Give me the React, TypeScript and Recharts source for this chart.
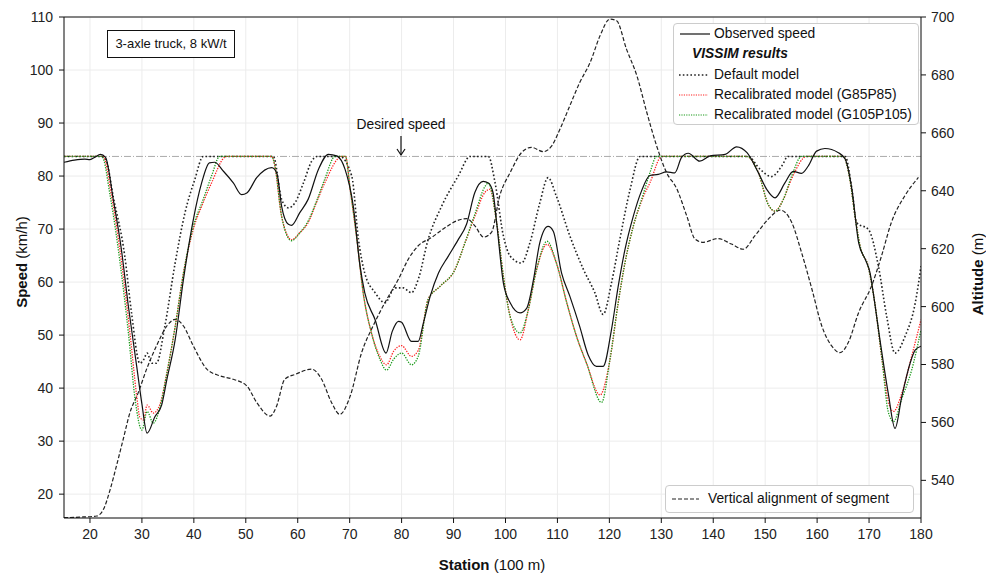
import React from 'react';
import { LineChart, Line, XAxis, YAxis, CartesianGrid, ReferenceLine } from 'recharts';

const stationTicks = [20, 30, 40, 50, 60, 70, 80, 90, 100, 110, 120, 130, 140, 150, 160, 170, 180];
const speedTicks = [20, 30, 40, 50, 60, 70, 80, 90, 100, 110];
const altitudeTicks = [540, 560, 580, 600, 620, 640, 660, 680, 700];
const desiredSpeed = 83.7;

// observed speed (km/h)
const obsStation = [15, 17, 19, 20, 21, 22, 23, 24.5, 26, 27.4, 29, 30, 31, 32.5, 33.8, 34.8, 36.4, 38, 39.9, 41.5, 43, 44, 45.7, 47.6, 49.2, 50.2, 52.1, 55, 56, 56.9, 58.2, 58.8, 60.4, 62, 64, 65.9, 67.5, 69.1, 70.7, 72, 72.9, 74.9, 77, 78.2, 79.4, 80, 81.9, 83.2, 84.2, 85.5, 87.1, 89, 90.9, 92.5, 94.1, 95.7, 96.7, 97.6, 98.3, 99.6, 100.9, 102.8, 104.1, 105.4, 106.6, 108.2, 109.2, 110.8, 112.4, 114.3, 115.9, 117.5, 118.8, 120.4, 121.7, 123, 124.6, 126.2, 127.8, 129.4, 131, 132.6, 133.9, 135.2, 137.4, 139.4, 142.3, 144.5, 146.5, 148.7, 150.3, 151.9, 153.8, 155.4, 157, 158.3, 159.9, 161.5, 164.1, 165.4, 166.7, 168, 169.3, 170.2, 170.8, 172.1, 173.7, 175, 176.3, 177.9, 178.9, 180];
const obsSpeed = [82.6, 83.0, 83.2, 83.1, 83.6, 84.1, 83.5, 75.5, 66.5, 55.4, 44.1, 37, 31.5, 34.6, 36.8, 41.6, 49.1, 60.5, 71.8, 78.7, 82.5, 82.6, 80.9, 78.7, 76.5, 76.8, 79.7, 81.6, 80.5, 74.3, 70.9, 70.7, 73.1, 75.6, 81.3, 84.1, 83.8, 81.3, 74.3, 63, 58, 52.9, 46.6, 50.7, 52.6, 52.4, 48.8, 48.8, 52.3, 57.3, 61.7, 64.9, 68, 70.9, 76.9, 79.0, 78.7, 76.9, 71.2, 59.8, 56.1, 54.2, 55.1, 60.5, 67.4, 70.5, 69.6, 61.7, 57.3, 51.6, 46.3, 44.1, 44.1, 51, 59.2, 66.1, 72.4, 77.2, 80.1, 80.3, 80.8, 80.6, 83.5, 84.3, 82.8, 83.8, 84.1, 85.5, 84.4, 80.6, 77.5, 75.9, 78.7, 80.9, 80.5, 81.9, 84.7, 85.2, 84.4, 83.2, 77.5, 67.4, 64.2, 61.7, 58, 49.1, 39, 32.4, 38.4, 44.7, 47.2, 47.9];

// VISSIM default model
const defStation = [15, 22, 23, 24.5, 26.7, 28, 29.6, 30.3, 31, 31.9, 32.8, 34.4, 36.4, 38.3, 40.2, 41.8, 55.3, 56.9, 58.2, 59.5, 61.1, 62.7, 63.7, 68.1, 70.4, 71.7, 72.9, 74.9, 76.8, 78.7, 80.3, 81.9, 83.2, 85.1, 87.7, 90.9, 93.2, 96.7, 98, 99.6, 100.9, 103.1, 104.7, 106.6, 108.2, 109.8, 112.4, 115, 117.2, 118.8, 120.4, 122, 124, 125.9, 146.7, 149, 151.2, 153.2, 154.4, 165.4, 166.7, 167.6, 169.9, 171.8, 173.4, 175, 176.9, 178.9, 180];
const defSpeed = [83.7, 83.7, 83.2, 76, 64.9, 54.2, 44.7, 45.3, 46.6, 44.7, 44.7, 51.6, 63.6, 73.1, 79.4, 83.7, 83.7, 75.6, 74, 75, 78.7, 82.8, 83.7, 83.7, 80, 68, 61.7, 58, 56.1, 58.9, 58.9, 58, 60.5, 68, 74.3, 80, 83.7, 83.7, 78.7, 68.7, 64.9, 63.6, 67.4, 74.9, 79.7, 76.2, 68.7, 62.4, 58, 53.9, 59.8, 68, 77.5, 83.7, 83.7, 81.3, 79.9, 81.9, 83.7, 83.7, 77.5, 71.2, 69.9, 63, 53.5, 46.6, 49.7, 56.1, 63];

// recalibrated G85P85
const g85Station = [15, 22.5, 24.2, 26.1, 27.7, 29, 29.6, 30.3, 31, 32.2, 33.5, 34.8, 36.4, 38, 39.9, 41.8, 43.4, 46.3, 55, 55.6, 56.9, 58.8, 60.4, 62, 63.6, 65.2, 68.5, 69.2, 70.1, 71.4, 72.6, 74.2, 75.8, 77.1, 78.5, 80, 81.9, 83.2, 85.1, 87.4, 90.3, 92.2, 94.1, 96.1, 97, 98.3, 99.6, 100.9, 102.8, 104.4, 106, 108, 109.8, 111.8, 113.7, 115.6, 118.2, 120.1, 121.7, 123, 124.6, 126.5, 127.8, 130.1, 146.4, 148.7, 150.6, 151.9, 153.5, 155.1, 158, 165, 166.3, 167.3, 168.3, 169.9, 171.2, 172.5, 173.7, 174.7, 176.3, 178.2, 180];
const g85Speed = [83.7, 83.7, 76, 63.6, 50.4, 38.5, 34.5, 34.0, 36.8, 35.3, 37, 42.8, 51.6, 61.7, 70, 75, 78.7, 83.7, 83.7, 81.9, 72.4, 68, 69.3, 71.2, 75, 78.7, 83.7, 83.7, 77.5, 68, 58, 50.4, 46, 44.4, 47, 48, 46, 47.1, 56.7, 59.2, 62.4, 67.4, 72.4, 77, 77.5, 71.2, 61.1, 53.5, 49.1, 54.8, 62.4, 67.1, 63.6, 56.1, 49.7, 44.7, 38.7, 45.3, 56.1, 63.6, 70.5, 76, 78.7, 83.7, 83.7, 80.6, 74.6, 73.4, 75.6, 79.5, 83.7, 83.7, 79.4, 72.4, 66.7, 62.7, 55.4, 45.3, 37.5, 35.6, 39, 46, 52.9];

// recalibrated G105P105
const g105Station = [15, 22.3, 23.9, 25.8, 27.4, 28.7, 30, 31, 32.2, 33.5, 34.8, 36.4, 38, 39.9, 41.8, 43.4, 45, 55, 55.6, 56.9, 58.8, 60.4, 62, 63.6, 65.2, 67.2, 69.2, 70.1, 71.4, 72.6, 74.2, 75.8, 77.1, 78.5, 80, 81.9, 83.2, 85.1, 87.4, 90.3, 92.2, 94.1, 96.1, 96.7, 98.3, 99.6, 100.9, 102.8, 104.4, 106, 108, 109.8, 111.8, 113.7, 115.6, 118.5, 120.1, 121.7, 123, 124.6, 126.5, 127.8, 129.1, 146.4, 148.7, 150.6, 151.9, 153.5, 155.1, 157, 165, 166.3, 167.3, 168.3, 169.9, 171.2, 172.5, 173.7, 174.7, 176.3, 178.2, 180];
const g105Speed = [83.7, 83.7, 76.2, 63.6, 50.4, 37.8, 32.1, 35.6, 33.4, 36.5, 42.8, 51.6, 61.7, 70.5, 75.6, 80, 83.7, 83.7, 81.9, 72.4, 67.8, 69.3, 71.5, 75.2, 79.4, 83.7, 83.7, 77.5, 68, 58, 50.4, 45.5, 43.4, 45.5, 46.6, 44.4, 46, 56.7, 59.2, 62.4, 67.4, 72.8, 78.1, 78.7, 71.2, 61.1, 53.5, 50.4, 54.8, 62.4, 67.7, 63.6, 56.1, 49.7, 44.7, 37.3, 45.3, 56.1, 63.6, 70.5, 76.5, 80.6, 83.7, 83.7, 80.6, 74.6, 73.4, 75.6, 80, 83.7, 83.7, 79.4, 72.4, 66.7, 62.7, 55.4, 45.3, 35.5, 33.7, 38, 43.4, 51];

// vertical alignment (altitude, m)
const altStation = [15, 18, 21.3, 22.6, 23.9, 25.1, 26.4, 27.7, 29.3, 30.9, 32.8, 34.8, 36.4, 38, 39.9, 42.5, 45, 47.6, 50.2, 52.1, 54.7, 55.9, 57.5, 59.5, 62.7, 64.6, 66.5, 68.1, 70.1, 72.3, 74.5, 76.8, 79.4, 81.3, 83.2, 85.8, 88.4, 90.6, 92.5, 94.1, 95.8, 97.3, 98.9, 100.9, 103.1, 105, 107.3, 108.9, 110.5, 112.4, 114.3, 116.3, 118.2, 120.1, 121.4, 123.3, 125.3, 127.2, 129.1, 131, 133, 134.9, 136.5, 138.1, 140.9, 143.5, 145.8, 148, 150.6, 152.9, 155.1, 157, 159, 160.9, 162.8, 164.4, 166, 168, 170.5, 172.4, 174.3, 176.9, 179.5];
const altitude = [527.1, 527.3, 527.7, 530, 536.9, 545, 554.2, 563.4, 570.3, 578.4, 586.4, 593.3, 595.6, 593.3, 586.4, 578.4, 576.1, 574.9, 572.6, 566.9, 562.2, 565.5, 574.9, 576.6, 578.4, 574.9, 566.9, 562.8, 569.1, 584.1, 593.3, 601.4, 609.5, 616.4, 621, 623.9, 627.3, 629.6, 630.4, 627.9, 624, 625.6, 638.3, 646.3, 653.2, 655, 653.5, 655.5, 661.3, 669.4, 677.4, 684.3, 693.5, 699.3, 698.7, 688.9, 679.7, 667.1, 655.5, 646.3, 640.6, 631.3, 623.3, 622.2, 623.5, 621.6, 619.8, 624.4, 630.2, 633.3, 629.1, 618.7, 606, 593.3, 586.4, 584.1, 587.6, 598, 607.2, 617.5, 629.1, 638.3, 644.6];

const zip = (xs: number[], ys: number[]) => xs.map((x, i) => ({ station: x, value: ys[i] }));

const font = '"Liberation Sans", Arial, sans-serif';
const tickStyle = { fontSize: 14, fill: '#222', fontFamily: font };

const App: React.FC = () => {
  return (
    <div style={{ position: 'absolute', left: 0, top: 0, width: 986, height: 573, background: '#fff', fontFamily: font }}>
      <LineChart width={986} height={573} margin={{ top: 17, right: 0, bottom: 0, left: 0 }}>
        <CartesianGrid stroke="#ececec" strokeWidth={1} yAxisId="speed" />
        <XAxis
          dataKey="station"
          type="number"
          domain={[15, 180]}
          ticks={stationTicks}
          allowDataOverflow
          height={55}
          tick={tickStyle}
          tickSize={5}
          tickMargin={6}
          stroke="#111"
          label={{
            content: () => (
              <text x={492} y={570} textAnchor="middle" fontSize={15} fill="#111" fontFamily={font}>
                <tspan fontWeight="bold">Station</tspan> (100 m)
              </text>
            ),
          }}
        />
        <YAxis
          yAxisId="speed"
          orientation="left"
          domain={[15.5, 110]}
          ticks={speedTicks}
          allowDataOverflow
          width={64}
          tick={tickStyle}
          tickSize={5}
          tickMargin={6}
          stroke="#111"
          label={{
            content: () => (
              <text x={27} y={262} transform="rotate(-90 27 262)" textAnchor="middle" fontSize={15} fill="#111" fontFamily={font}>
                <tspan fontWeight="bold">Speed</tspan> (km/h)
              </text>
            ),
          }}
        />
        <YAxis
          yAxisId="alt"
          orientation="right"
          domain={[527, 700]}
          ticks={altitudeTicks}
          allowDataOverflow
          width={65}
          tick={tickStyle}
          tickSize={5}
          tickMargin={5}
          stroke="#111"
          label={{
            content: () => (
              <text x={983} y={274} transform="rotate(-90 983 274)" textAnchor="middle" fontSize={15} fill="#111" fontFamily={font}>
                <tspan fontWeight="bold">Altitude</tspan> (m)
              </text>
            ),
          }}
        />
        <ReferenceLine yAxisId="speed" y={110} stroke="#111" strokeWidth={1} />
        <ReferenceLine yAxisId="speed" y={desiredSpeed} stroke="#aaa" strokeWidth={1} strokeDasharray="7 2 1 2" />
        <Line
          data={zip(altStation, altitude)}
          dataKey="value"
          yAxisId="alt"
          type="monotone"
          stroke="#222"
          strokeWidth={1.2}
          strokeDasharray="4 2"
          dot={false}
          isAnimationActive={false}
        />
        <Line
          data={zip(defStation, defSpeed)}
          dataKey="value"
          yAxisId="speed"
          type="monotone"
          stroke="#222"
          strokeWidth={1.6}
          strokeDasharray="1.6 2.2"
          dot={false}
          isAnimationActive={false}
        />
        <Line
          data={zip(g85Station, g85Speed)}
          dataKey="value"
          yAxisId="speed"
          type="monotone"
          stroke="#ff2020"
          strokeWidth={1.3}
          strokeDasharray="1.3 1.3"
          dot={false}
          isAnimationActive={false}
        />
        <Line
          data={zip(g105Station, g105Speed)}
          dataKey="value"
          yAxisId="speed"
          type="monotone"
          stroke="#1a9a1a"
          strokeWidth={1.3}
          strokeDasharray="1.3 1.3"
          dot={false}
          isAnimationActive={false}
        />
        <Line
          data={zip(obsStation, obsSpeed)}
          dataKey="value"
          yAxisId="speed"
          type="monotone"
          stroke="#111"
          strokeWidth={1.2}
          dot={false}
          isAnimationActive={false}
        />
      </LineChart>

      {/* case label */}
      <div style={{ position: 'absolute', left: 107, top: 30, width: 126, height: 26, border: '1.3px solid #111', background: '#fff', fontSize: 13, lineHeight: '26px', textAlign: 'center', color: '#111' }}>
        3-axle truck, 8 kW/t
      </div>

      {/* desired speed annotation */}
      <div style={{ position: 'absolute', left: 341, top: 117, width: 120, textAlign: 'center', fontSize: 13.8, color: '#111' }}>Desired speed</div>
      <svg style={{ position: 'absolute', left: 390, top: 134 }} width={22} height={24}>
        <line x1={11} y1={2} x2={11} y2={21} stroke="#111" strokeWidth={1.2} />
        <polyline points="7,15 11,21 15,15" fill="none" stroke="#111" strokeWidth={1.2} />
      </svg>

      {/* top legend */}
      <div style={{ position: 'absolute', left: 673, top: 23, width: 244, height: 100, border: '1px solid #ccc', borderRadius: 4, background: '#fff', fontSize: 13.8, color: '#111' }}>
        <svg style={{ position: 'absolute', left: 0, top: 0 }} width={40} height={100}>
          <line x1={6} y1={10} x2={36} y2={10} stroke="#111" strokeWidth={1.2} />
          <line x1={5} y1={51} x2={34} y2={51} stroke="#222" strokeWidth={1.6} strokeDasharray="1.6 2.2" />
          <line x1={5} y1={71} x2={34} y2={71} stroke="#ff2020" strokeWidth={1.2} strokeDasharray="1.2 1.2" />
          <line x1={5} y1={91} x2={34} y2={91} stroke="#1a9a1a" strokeWidth={1.2} strokeDasharray="1.2 1.2" />
        </svg>
        <div style={{ position: 'absolute', left: 40, top: 2, lineHeight: '16px' }}>Observed speed</div>
        <div style={{ position: 'absolute', left: 18, top: 22, lineHeight: '16px', fontWeight: 'bold', fontStyle: 'italic' }}>VISSIM results</div>
        <div style={{ position: 'absolute', left: 40, top: 43, lineHeight: '16px' }}>Default model</div>
        <div style={{ position: 'absolute', left: 40, top: 63, lineHeight: '16px' }}>Recalibrated model (G85P85)</div>
        <div style={{ position: 'absolute', left: 40, top: 83, lineHeight: '16px' }}>Recalibrated model (G105P105)</div>
      </div>

      {/* bottom legend */}
      <div style={{ position: 'absolute', left: 665, top: 485, width: 247, height: 26, border: '1px solid #ccc', borderRadius: 4, background: '#fff', fontSize: 13.8, color: '#111' }}>
        <svg style={{ position: 'absolute', left: 0, top: 0 }} width={40} height={26}>
          <line x1={6} y1={13} x2={33} y2={13} stroke="#222" strokeWidth={1.2} strokeDasharray="4 2" />
        </svg>
        <div style={{ position: 'absolute', left: 42, top: 5, lineHeight: '16px' }}>Vertical alignment of segment</div>
      </div>
    </div>
  );
};

export default App;
